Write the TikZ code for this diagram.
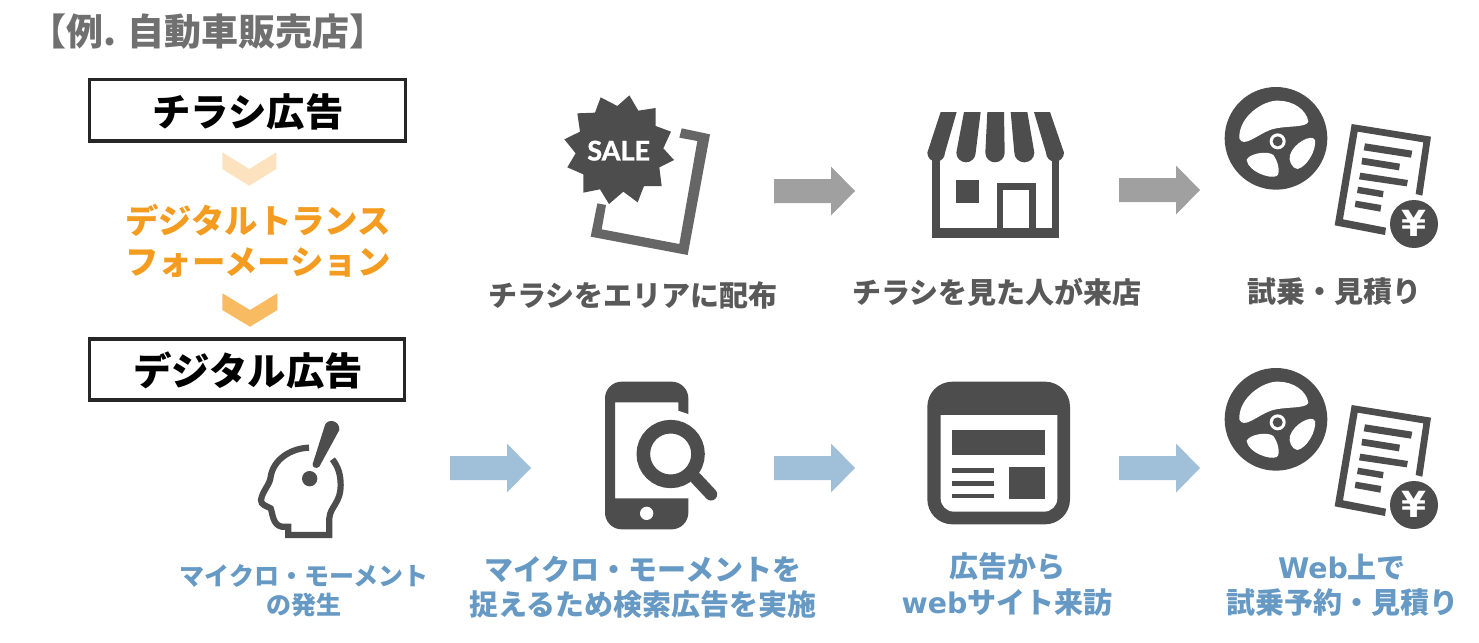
\documentclass[tikz,border=0pt]{standalone}
\usepackage{fontspec}
\setmainfont{Noto Sans CJK JP}
\newfontfamily\latfont{DejaVu Sans}
\newfontfamily\salefont{Lato}[BoldFeatures={FakeBold=1.2}]
\newcommand{\px}[2]{\fontsize{#1}{#2}\selectfont\bfseries}
\definecolor{icon}{HTML}{4D4D4D}
\definecolor{flyer}{HTML}{666666}
\definecolor{grayarrow}{HTML}{A0A0A0}
\definecolor{bluearrow}{HTML}{A0BFD9}
\definecolor{labelgray}{HTML}{595959}
\definecolor{titlegray}{HTML}{707070}
\definecolor{labelblue}{HTML}{6699C4}
\definecolor{dxorange}{HTML}{F39C1F}
\definecolor{chevlight}{HTML}{FCE2BE}
\definecolor{chevdark}{HTML}{F8BB62}
\definecolor{boxline}{HTML}{262626}
\tikzset{
  x=0.5pt,y=-0.5pt,
  headbox/.style={draw=boxline,line width=1.7pt,fill=white},
  boxtext/.style={text=black,anchor=center,inner sep=0pt,font=\px{19.2}{20}},
  graylabel/.style={text=labelgray,anchor=center,inner sep=0pt,align=center,font=\px{14.5}{15}},
  bluelabel/.style={text=labelblue,anchor=center,inner sep=0pt,align=center},
  dxlabel/.style={text=dxorange,anchor=center,inner sep=0pt,align=center},
}
% block arrow: left x, centre y, fill colour
\newcommand{\blockarrow}[3]{%
  \fill[#3] (#1,#2-12) -- (#1+57,#2-12) -- (#1+57,#2-24.5) -- (#1+81,#2) -- (#1+57,#2+24.5) -- (#1+57,#2+12) -- (#1,#2+12) -- cycle;}
% steering wheel and estimate, crop origin given
\newcommand{\wheeldoc}[2]{%
\begin{scope}[shift={(#1,#2)},scale=1/3]
  \fill[icon] (198,175) circle[radius=154];
  \fill[white] (88,175) .. controls (85,110) and (160,60) .. (205,62) .. controls (250,62) and (290,90) .. (295,125) .. controls (290,145) and (220,135) .. (180,150) .. controls (140,165) and (100,205) .. (88,175) -- cycle;
  \fill[white] (110,240) .. controls (115,222) and (170,210) .. (190,225) .. controls (205,245) and (212,280) .. (200,288) .. controls (180,298) and (115,275) .. (110,240) -- cycle;
  \fill[white] (240,225) .. controls (250,190) and (305,160) .. (315,180) .. controls (320,210) and (290,262) .. (262,267) .. controls (245,265) and (235,240) .. (240,225) -- cycle;
  \fill[white] (203,184) circle[radius=24];
  \fill[icon] (203,184) circle[radius=15];
  \fill[icon] (425,132) -- (663,170) -- (637,347) -- (617,342) -- (640,187) -- (443,155) -- (399,418) -- (528,443) -- (525,465) -- (374,436) -- cycle;
  \fill[icon] (465,190) -- (607,212) -- (603,233) -- (461,211) -- cycle;
  \fill[icon] (457,233) -- (570,251) -- (567,271) -- (454,253) -- cycle;
  \fill[icon] (451,278) -- (594,300) -- (590,319) -- (447,298) -- cycle;
  \fill[icon] (444,320) -- (521,333) -- (518,352) -- (441,339) -- cycle;
  \fill[icon] (437,362) -- (514,375) -- (511,395) -- (434,381) -- cycle;
  \fill[icon] (612,432) circle[radius=72];
  \node[text=white,inner sep=0pt,anchor=center,font=\latfont\px{18}{18}] (yen#2) at (612,429) {¥};
\end{scope}}
\begin{document}
\begin{tikzpicture}
\useasboundingbox (0,0) rectangle (1479,643);
\fill[white] (0,0) rectangle (1479,643);

% title
\node[text=titlegray,anchor=west,inner sep=0pt,font=\px{18.5}{19}] (title) at (29,32) {【例. 自動車販売店】};

% left column
\draw[headbox] (89.7,79.3) rectangle (405.7,141);
\node[boxtext] (chirashi) at (248,112) {チラシ広告};
\fill[chevlight] (222.3,152.3) -- (249.3,169) -- (276.3,152.3) -- (276.3,169) -- (249.3,185.7) -- (222.3,169) -- cycle;
\node[dxlabel,font=\px{16.7}{20.5}] (dx) at (258,241) {デジタルトランス\\フォーメーション};
\fill[chevdark] (222.3,293.3) -- (250,310) -- (277.3,293.3) -- (277.3,310) -- (250,326.7) -- (222.3,310) -- cycle;
\draw[headbox] (89.7,339) rectangle (404.3,400);
\node[boxtext] (digital) at (248,370) {デジタル広告};

% sale flyer
\begin{scope}[shift={(540,80)},scale=1/3]
  \fill[flyer] (425,145) -- (510,163) -- (443,525) -- (152,470) -- (172,370) -- (198,375) -- (185,448) -- (418,492) -- (472,183) -- (418,173) -- cycle;
  \fill[icon] (182,52) -- (232,78) -- (268,46) -- (295,92) -- (347,84) -- (347,138) -- (393,155) -- (370,205) -- (402,240) -- (358,262) -- (365,318) -- (312,318) -- (293,367) -- (250,335) -- (207,372) -- (180,328) -- (130,338) -- (130,283) -- (82,262) -- (107,220) -- (73,178) -- (120,155) -- (112,100) -- (165,98) -- cycle;
  \node[text=white,inner sep=0pt,anchor=center,font=\salefont\px{13.5}{14}] (sale) at (236,212) {SALE};
\end{scope}

% store
\begin{scope}[shift={(910,90)},scale=1/3]
  \fill[icon] (65,200) rectangle (448,443);
  \fill[white] (90,200) rectangle (425,415);
  \fill[icon] (138,270) rectangle (208,340);
  \fill[icon] (260,280) rectangle (377,415);
  \fill[white] (279,299) rectangle (358,415);
  \fill[icon] (92,66) -- (140,66) -- (105,188) arc[start angle=0,end angle=180,x radius=26.5,y radius=27] -- cycle;
  \fill[icon] (162,66) -- (212,66) -- (197,188) arc[start angle=0,end angle=180,x radius=29,y radius=29] -- cycle;
  \fill[icon] (232,66) -- (282,66) -- (284,188) arc[start angle=0,end angle=180,x radius=29,y radius=29] -- cycle;
  \fill[icon] (302,66) -- (352,66) -- (373,188) arc[start angle=0,end angle=180,x radius=30,y radius=29] -- cycle;
  \fill[icon] (372,66) -- (420,66) -- (462,188) arc[start angle=0,end angle=180,x radius=27,y radius=27] -- cycle;
\end{scope}

\wheeldoc{1210}{80}

% arrows top row
\blockarrow{774}{191}{grayarrow}
\blockarrow{1119}{190}{grayarrow}

% labels top row
\node[graylabel] (l1) at (633,295) {チラシをエリアに配布};
\node[graylabel] (l2) at (997,292) {チラシを見た人が来店};
\node[graylabel] (l3) at (1334,292) {試乗・見積り};

% head
\begin{scope}[shift={(240,410)},scale=1/3]
  \draw[icon,line width=3.1pt,line join=miter] (207,113) .. controls (150,115) and (100,150) .. (92,200) .. controls (90,225) and (68,240) .. (63,270) .. controls (62,285) and (80,288) .. (92,295) .. controls (98,310) and (98,345) .. (125,350) -- (145,350) -- (145,375) -- (268,375) -- (268,325) .. controls (270,290) and (302,280) .. (302,225) .. controls (302,195) and (295,170) .. (277,148);
  \fill[icon] (255,45) .. controls (262,25) and (300,30) .. (298,60) -- (238,170) .. controls (230,178) and (215,172) .. (218,162) -- cycle;
  \fill[icon] (209,206) circle[radius=23];
\end{scope}

% phone
\begin{scope}[shift={(590,370)},scale=1/3]
  \fill[icon] (45,85) arc[start angle=180,end angle=90,x radius=50,y radius=-50] -- (245,35) arc[start angle=90,end angle=0,x radius=50,y radius=-50] -- (295,132) -- (265,122) -- (265,97) -- (75,97) -- (75,385) -- (295,385) -- (295,428) arc[start angle=0,end angle=-90,x radius=50,y radius=-50] -- (95,478) arc[start angle=-90,end angle=-180,x radius=50,y radius=-50] -- cycle;
  \fill[white] (170,430) circle[radius=20];
  \draw[icon,line width=6.8pt] (242,252) circle[radius=82];
  \draw[icon,line width=6.2pt,line cap=round] (318,325) -- (363,373);
\end{scope}

% newspaper
\begin{scope}[shift={(915,370)},scale=1/3]
  \fill[icon,rounded corners=12.5pt] (37,35) rectangle (465,463);
  \fill[white] (77,135) -- (427,135) -- (427,385) arc[start angle=0,end angle=-90,x radius=40,y radius=-40] -- (117,425) arc[start angle=-90,end angle=-180,x radius=40,y radius=-40] -- cycle;
  \fill[icon] (110,180) rectangle (390,256);
  \fill[icon] (282,292) rectangle (390,387);
  \fill[icon] (110,295) rectangle (238,308);
  \fill[icon] (110,333) rectangle (238,347);
  \fill[icon] (110,371) rectangle (238,385);
\end{scope}

\wheeldoc{1210}{361}

% arrows bottom row
\blockarrow{450}{468}{bluearrow}
\blockarrow{774}{468}{bluearrow}
\blockarrow{1119}{468}{bluearrow}

% labels bottom row
\node[bluelabel,font=\px{12.5}{14.5}] (b1) at (304,591) {マイクロ・モーメント\\の発生};
\node[bluelabel,font=\px{14.5}{17.5}] (b2) at (643,587) {マイクロ・モーメントを\\捉えるため検索広告を実施};
\node[bluelabel,font=\px{14.5}{18}] (b3) at (1007,584) {広告から\\{\latfont\fontsize{14.2}{18}\selectfont web}サイト来訪};
\node[bluelabel,font=\px{14.5}{17.5}] (b4) at (1342,585) {{\latfont\fontsize{14.2}{17.5}\selectfont Web}上で\\試乗予約・見積り};
\end{tikzpicture}
\end{document}
